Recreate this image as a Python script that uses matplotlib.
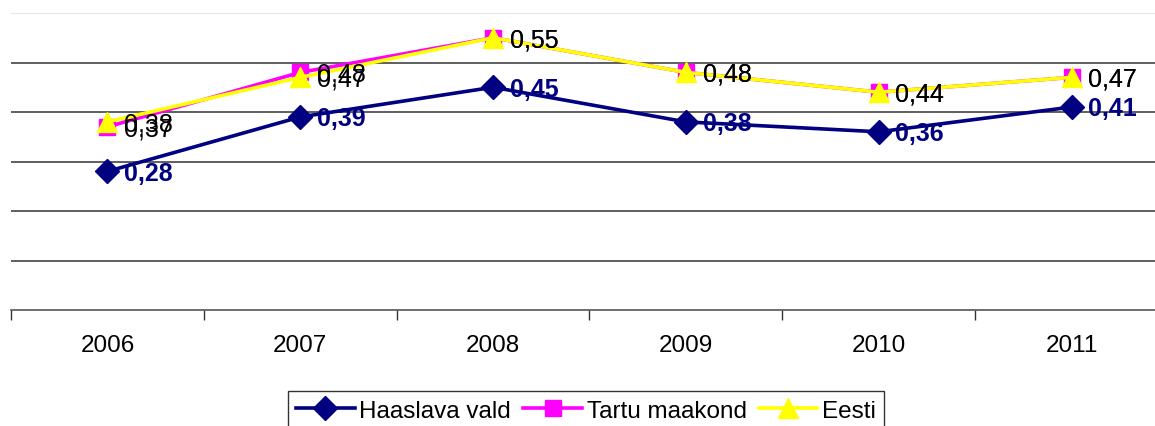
import matplotlib
matplotlib.use("Agg")
import matplotlib.pyplot as plt

# ---------------- Datos ----------------
years = ["2006", "2007", "2008", "2009", "2010", "2011"]
haaslava = [0.28, 0.39, 0.45, 0.38, 0.36, 0.41]
tartu = [0.37, 0.48, 0.55, 0.48, 0.44, 0.47]
eesti = [0.38, 0.47, 0.55, 0.48, 0.44, 0.47]

plt.rcParams['font.family'] = ['Liberation Sans', 'DejaVu Sans']


def fmt(v):
    return f"{v:.2f}".replace(".", ",")


fig = plt.figure(figsize=(11.55, 4.27), dpi=100)
ax = fig.add_axes([11 / 1155, 1 - 311 / 427, 1157 / 1155, (311 - 14) / 427])

x = list(range(len(years)))

ax.plot(x, haaslava, color='#000080', lw=2.6, marker='D', ms=12,
        label='Haaslava vald', zorder=3)
ax.plot(x, tartu, color='#FF00FF', lw=2.6, marker='s', ms=12,
        label='Tartu maakond', zorder=4)
ax.plot(x, eesti, color='#FFFF00', lw=2.6, marker='^', ms=15,
        label='Eesti', zorder=5)

# etiquetas de datos
for xi, v in zip(x, tartu):
    ax.annotate(fmt(v), (xi, v), xytext=(12, -1), textcoords='offset points',
                va='center', ha='left', fontsize=18, color='black', zorder=6)
for xi, v in zip(x, eesti):
    ax.annotate(fmt(v), (xi, v), xytext=(12, -1), textcoords='offset points',
                va='center', ha='left', fontsize=18, color='black', zorder=6)
for xi, v in zip(x, haaslava):
    ax.annotate(fmt(v), (xi, v), xytext=(12, -1), textcoords='offset points',
                va='center', ha='left', fontsize=18, color='#000080',
                fontweight='bold', zorder=6)

ax.set_xlim(-0.5, len(years) - 0.5)
ax.set_ylim(0, 0.6)

# lineas de cuadricula horizontales
ax.set_yticks([0.1, 0.2, 0.3, 0.4, 0.5])
ax.yaxis.grid(True, color='#333333', lw=1.1)
ax.tick_params(axis='y', left=False, labelleft=False)

ax.set_xticks([i - 0.5 for i in range(len(years) + 1)], minor=False)
ax.set_xticklabels([])
ax.set_xticks(x, minor=True)
ax.set_xticklabels(years, minor=True, fontsize=17.5)
ax.tick_params(axis='x', which='major', length=7, width=1, color='#333333')
ax.tick_params(axis='x', which='minor', length=0, pad=17)

for s in ['left', 'right']:
    ax.spines[s].set_visible(False)
ax.spines['top'].set_color('#e6e6e6')
ax.spines['bottom'].set_color('#555555')
ax.spines['bottom'].set_linewidth(1.2)

leg = fig.legend(loc='upper center', bbox_to_anchor=(586 / 1155, 1 - 392 / 427),
                 ncol=3, fontsize=17.5, frameon=True, fancybox=False,
                 edgecolor='black', handlelength=2.4, handletextpad=0.2,
                 columnspacing=0.5, borderpad=0.35, borderaxespad=0)
leg.get_frame().set_linewidth(1)

fig.savefig("out.png", dpi=100)
